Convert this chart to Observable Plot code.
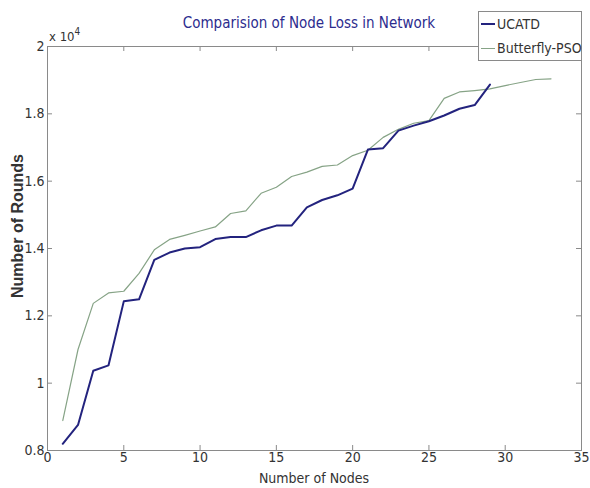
<!DOCTYPE html>
<html>
<head>
<meta charset="utf-8">
<script src="https://cdn.jsdelivr.net/npm/d3@7"></script>
<script src="https://cdn.jsdelivr.net/npm/@observablehq/plot@0.6"></script>
<style>
  html, body { margin: 0; padding: 0; background: #fff; }
  #wrap { position: relative; width: 590px; height: 488px; font-family: "Liberation Sans Narrow", "Arial Narrow", "DejaVu Sans Condensed", sans-serif; color: #333; }
  #wrap svg { position: absolute; left: 0; top: 0; }
  .ov { position: absolute; white-space: nowrap; }
</style>
</head>
<body>
<div id="wrap"></div>
<script>
const title = "Comparision of Node Loss in Network";
const xLabel = "Number of Nodes";
const yLabel = "Number of Rounds";
const seriesNames = ["UCATD", "Butterfly-PSO"];
const seriesColors = ["#23237e", "#86a386"];

const ucatdNodes = [1,2,3,4,5,6,7,8,9,10,11,12,13,14,15,16,17,18,19,20,21,22,23,24,25,26,27,28,29];
const ucatdRounds = [8200,8760,10370,10530,12430,12490,13660,13880,14000,14040,14280,14340,14340,14540,14680,14680,15220,15440,15580,15780,16940,16980,17500,17650,17780,17950,18150,18260,18870];

const psoNodes = [1,2,3,4,5,6,7,8,9,10,11,12,13,14,15,16,17,18,19,20,21,22,23,24,25,26,27,28,29,30,31,32,33];
const psoRounds = [8890,11000,12370,12680,12730,13260,13960,14270,14390,14520,14640,15040,15120,15640,15820,16140,16270,16440,16480,16760,16920,17300,17540,17720,17800,18460,18650,18690,18740,18840,18930,19020,19040];

const xTicks = [0,5,10,15,20,25,30,35];
const yTicks = [8000,10000,12000,14000,16000,18000,20000];
const yExponent = "4";

const rows = [
  ...ucatdNodes.map((n, i) => ({series: seriesNames[0], node: n, rounds: ucatdRounds[i]})),
  ...psoNodes.map((n, i) => ({series: seriesNames[1], node: n, rounds: psoRounds[i]}))
];

const W = 590, H = 488;
const mL = 47, mR = 9, mT = 46, mB = 38;
const innerH = H - mT - mB;
const innerW = W - mL - mR;
const tickLen = 5;
const frameColor = "#8a8a8a";
const font = `"Liberation Sans Narrow", "Arial Narrow", "DejaVu Sans Condensed", sans-serif`;

const chart = Plot.plot({
  width: W,
  height: H,
  marginLeft: mL,
  marginRight: mR,
  marginTop: mT,
  marginBottom: mB,
  style: {fontFamily: font, fontSize: "14px", color: "#333", background: "#fff", overflow: "visible"},
  x: {domain: [0, 35]},
  y: {domain: [8000, 20000]},
  color: {domain: seriesNames, range: seriesColors},
  marks: [
    Plot.axisX(xTicks, {tickSize: 0, tickPadding: 2, label: null, fontSize: 14}),
    Plot.axisY(yTicks, {tickSize: 0, tickPadding: 3, label: null, fontSize: 14, tickFormat: d => String(+(d / 1e4).toFixed(1))}),
    Plot.tickX(xTicks, {x: d => d, insetTop: innerH - tickLen, stroke: frameColor}),
    Plot.tickX(xTicks, {x: d => d, insetBottom: innerH - tickLen, stroke: frameColor}),
    Plot.tickY(yTicks, {y: d => d, insetRight: innerW - tickLen, stroke: frameColor}),
    Plot.tickY(yTicks, {y: d => d, insetLeft: innerW - tickLen, stroke: frameColor}),
    Plot.frame({stroke: frameColor}),
    Plot.line(rows.filter(d => d.series === seriesNames[1]), {x: "node", y: "rounds", stroke: "series", strokeWidth: 1.2}),
    Plot.line(rows.filter(d => d.series === seriesNames[0]), {x: "node", y: "rounds", stroke: "series", strokeWidth: 2})
  ]
});

const wrap = document.getElementById("wrap");
wrap.appendChild(chart);

function ov(html, css) {
  const d = document.createElement("div");
  d.className = "ov";
  d.innerHTML = html;
  Object.assign(d.style, css);
  wrap.appendChild(d);
  return d;
}

// title
ov(title, {left: "0px", width: W + "px", top: "14px", textAlign: "center", fontSize: "15px", color: "#2c2c8e", paddingLeft: "28px", boxSizing: "border-box"});
// exponent
ov(`x 10<sup style="font-size:10px;position:relative;top:-1px">${yExponent}</sup>`, {left: "49px", top: "27px", fontSize: "13px", color: "#333"});
// x label
ov(xLabel, {left: mL + "px", width: innerW + "px", top: "470px", textAlign: "center", fontSize: "14px"});
// y label
ov(yLabel, {left: "18px", top: "226px", fontSize: "16px", fontWeight: "bold", fontFamily: `"Liberation Sans", Arial, sans-serif`, transform: "translate(-50%, -50%) rotate(-90deg)", color: "#333"});

// legend
const leg = ov("", {left: "478px", top: "11px", width: "104px", height: "50px", border: "1px solid " + frameColor, background: "#fff", boxSizing: "border-box"});
seriesNames.forEach((name, i) => {
  const row = document.createElement("div");
  Object.assign(row.style, {position: "absolute", left: "2px", top: (4 + i * 24) + "px", display: "flex", alignItems: "center", fontSize: "14px", color: "#333"});
  row.innerHTML = `<span style="display:inline-block;width:14px;height:0;border-top:${i === 0 ? 2 : 1.2}px solid ${seriesColors[i]};margin-right:2px"></span>${name}`;
  leg.appendChild(row);
});
</script>
</body>
</html>
